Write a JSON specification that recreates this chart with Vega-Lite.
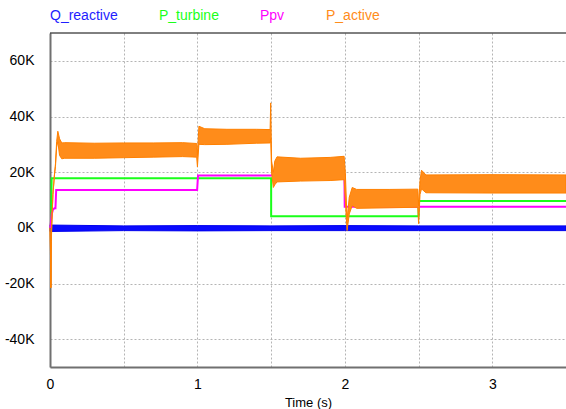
{
  "$schema": "https://vega.github.io/schema/vega-lite/v6.json",
  "width": 516,
  "height": 334,
  "autosize": {"type": "none"},
  "padding": {"left": 50, "top": 33, "right": 0, "bottom": 42},
  "background": "white",
  "config": {
    "font": "Liberation Sans",
    "view": {"stroke": null},
    "axis": {"labelFont": "Liberation Sans", "titleFont": "Liberation Sans", "labelColor": "#000000", "titleColor": "#000000", "titleFontWeight": "normal"}
  },
  "datasets": {
    "steps": [
      {"s": "P_turbine", "i": 1, "t": 0, "v": 0},
      {"s": "P_turbine", "i": 2, "t": 0.008, "v": 2000},
      {"s": "P_turbine", "i": 3, "t": 0.011, "v": 17800},
      {"s": "P_turbine", "i": 4, "t": 1.5, "v": 17800},
      {"s": "P_turbine", "i": 5, "t": 1.5, "v": 4200},
      {"s": "P_turbine", "i": 6, "t": 2.5, "v": 4200},
      {"s": "P_turbine", "i": 7, "t": 2.5, "v": 9600},
      {"s": "P_turbine", "i": 8, "t": 3.5, "v": 9600},
      {"s": "Ppv", "i": 1, "t": 0, "v": 0},
      {"s": "Ppv", "i": 2, "t": 0.005, "v": 1500},
      {"s": "Ppv", "i": 3, "t": 0.012, "v": 5000},
      {"s": "Ppv", "i": 4, "t": 0.02, "v": 6500},
      {"s": "Ppv", "i": 5, "t": 0.03, "v": 7000},
      {"s": "Ppv", "i": 6, "t": 0.037, "v": 7000},
      {"s": "Ppv", "i": 7, "t": 0.042, "v": 13600},
      {"s": "Ppv", "i": 8, "t": 0.998, "v": 13600},
      {"s": "Ppv", "i": 9, "t": 1.004, "v": 18800},
      {"s": "Ppv", "i": 10, "t": 1.997, "v": 18800},
      {"s": "Ppv", "i": 11, "t": 1.999, "v": 7600},
      {"s": "Ppv", "i": 12, "t": 3.5, "v": 7600}
    ],
    "qband": [
      {"t": 0, "lo": -1300, "hi": 1000},
      {"t": 0.5, "lo": -1000, "hi": 700},
      {"t": 1.0, "lo": -1100, "hi": 800},
      {"t": 1.5, "lo": -1000, "hi": 700},
      {"t": 2.0, "lo": -1000, "hi": 800},
      {"t": 2.5, "lo": -1000, "hi": 700},
      {"t": 3.0, "lo": -1000, "hi": 700},
      {"t": 3.5, "lo": -1000, "hi": 700}
    ],
    "pband": [
      {"t": 0, "lo": 0, "hi": 0},
      {"t": 0.003, "lo": -8000, "hi": -8000},
      {"t": 0.006, "lo": -21500, "hi": -21500},
      {"t": 0.009, "lo": -5000, "hi": -5000},
      {"t": 0.013, "lo": 3000, "hi": 3000},
      {"t": 0.02, "lo": 12000, "hi": 12000},
      {"t": 0.03, "lo": 19000, "hi": 19000},
      {"t": 0.037, "lo": 22000, "hi": 23000},
      {"t": 0.045, "lo": 29000, "hi": 31000},
      {"t": 0.053, "lo": 31000, "hi": 34700},
      {"t": 0.065, "lo": 26000, "hi": 32000},
      {"t": 0.08, "lo": 24800, "hi": 30500},
      {"t": 0.1, "lo": 25000, "hi": 30600},
      {"t": 0.3, "lo": 25000, "hi": 30400},
      {"t": 0.5, "lo": 25200, "hi": 30500},
      {"t": 0.7, "lo": 25400, "hi": 30500},
      {"t": 0.9, "lo": 25600, "hi": 30600},
      {"t": 0.995, "lo": 25400, "hi": 30300},
      {"t": 1.0, "lo": 21900, "hi": 26000},
      {"t": 1.01, "lo": 30000, "hi": 36500},
      {"t": 1.05, "lo": 29900, "hi": 35600},
      {"t": 1.2, "lo": 30000, "hi": 35400},
      {"t": 1.4, "lo": 30400, "hi": 35400},
      {"t": 1.493, "lo": 30500, "hi": 35300},
      {"t": 1.497, "lo": 32000, "hi": 44900},
      {"t": 1.503, "lo": 20000, "hi": 24000},
      {"t": 1.515, "lo": 14500, "hi": 20000},
      {"t": 1.525, "lo": 15500, "hi": 24000},
      {"t": 1.54, "lo": 16500, "hi": 25500},
      {"t": 1.7, "lo": 16800, "hi": 25000},
      {"t": 1.9, "lo": 17000, "hi": 25300},
      {"t": 1.995, "lo": 17300, "hi": 25700},
      {"t": 2.003, "lo": 10000, "hi": 20000},
      {"t": 2.015, "lo": -1000, "hi": 3000},
      {"t": 2.03, "lo": 5000, "hi": 11000},
      {"t": 2.05, "lo": 8000, "hi": 14500},
      {"t": 2.08, "lo": 7000, "hi": 13800},
      {"t": 2.3, "lo": 7200, "hi": 13800},
      {"t": 2.495, "lo": 7400, "hi": 13900},
      {"t": 2.5, "lo": 1500, "hi": 8000},
      {"t": 2.51, "lo": 12000, "hi": 17000},
      {"t": 2.52, "lo": 14000, "hi": 20700},
      {"t": 2.55, "lo": 12600, "hi": 19000},
      {"t": 3.0, "lo": 12500, "hi": 19100},
      {"t": 3.5, "lo": 12500, "hi": 19000}
    ]
  },
  "layer": [
    {
      "data": {"name": "qband"},
      "mark": {"type": "area", "fill": "#0a0aff", "stroke": "#0000ee", "strokeWidth": 1},
      "encoding": {
        "x": {"field": "t", "type": "quantitative", "scale": {"domain": [0, 3.5], "nice": false},
          "axis": {"values": [0, 0.5, 1, 1.5, 2, 2.5, 3], "labelExpr": "datum.value % 1 === 0 ? format(datum.value, 'd') : ''", "title": "Time (s)", "titleFontSize": 13, "labelFontSize": 14, "ticks": false, "labelPadding": 10, "titlePadding": 5, "domainColor": "#707070", "domainWidth": 2, "gridColor": "#b4b4b4", "gridDash": [2, 2], "labelFlush": false}},
        "y": {"field": "hi", "type": "quantitative", "scale": {"domain": [-50000, 70000], "nice": false, "zero": false},
          "axis": {"values": [-40000, -20000, 0, 20000, 40000, 60000], "labelExpr": "(datum.value / 1000) + 'K'", "title": null, "labelFontSize": 14, "ticks": false, "labelPadding": 16, "domainColor": "#707070", "domainWidth": 2, "gridColor": "#b4b4b4", "gridDash": [2, 2]}},
        "y2": {"field": "lo"}
      }
    },
    {
      "data": {"name": "steps"},
      "mark": {"type": "line", "strokeWidth": 2},
      "encoding": {
        "x": {"field": "t", "type": "quantitative"},
        "y": {"field": "v", "type": "quantitative"},
        "order": {"field": "i", "type": "quantitative"},
        "color": {"field": "s", "type": "nominal",
          "scale": {"domain": ["Q_reactive", "P_turbine", "Ppv", "P_active"], "range": ["#1e1eff", "#1aff1a", "#ff00ff", "#ff8c1a"]},
          "legend": {"orient": "none", "legendX": -14, "legendY": -24, "direction": "horizontal", "columns": 4, "title": null,
            "symbolSize": 0, "symbolOpacity": 0, "symbolStrokeWidth": 0, "labelOffset": 0, "columnPadding": 27,
            "labelFontSize": 14, "labelFont": "Liberation Sans", "padding": 0,
            "encode": {"labels": {"update": {"fill": {"scale": "color", "field": "value"}}}}}}
      }
    },
    {
      "data": {"name": "pband"},
      "mark": {"type": "area", "fill": "#ff8c1a", "stroke": "#ff8000", "strokeWidth": 1},
      "encoding": {
        "x": {"field": "t", "type": "quantitative"},
        "y": {"field": "hi", "type": "quantitative"},
        "y2": {"field": "lo"}
      }
    },
    {
      "data": {"values": [{"top": 70000}]},
      "mark": {"type": "rule", "color": "#000000", "strokeWidth": 1},
      "encoding": {"y": {"field": "top", "type": "quantitative"}}
    }
  ]
}
